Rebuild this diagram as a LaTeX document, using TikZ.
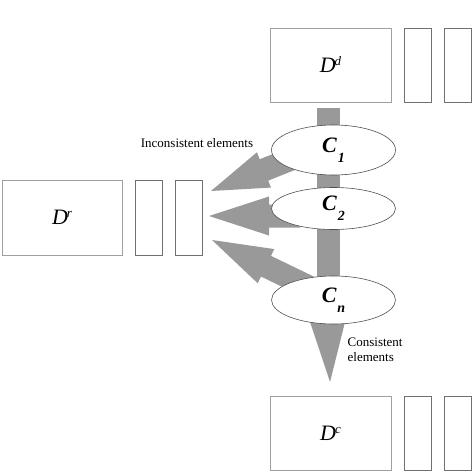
\documentclass[tikz,border=0pt]{standalone}
\usepackage{fontspec}
\setmainfont{Liberation Serif}
\usetikzlibrary{shapes.geometric,calc}
\definecolor{arrgray}{HTML}{999999}
\definecolor{bigline}{HTML}{A0A0A0}
\definecolor{smallline}{HTML}{707070}
\definecolor{ellline}{HTML}{505050}
% #1 source, #2 tip, #3 head length, #4 half head width, #5 half shaft width
\newcommand\blockarr[5]{%
  \coordinate (ab) at ($(#2)!#3!(#1)$);
  \fill[arrgray] (#2) -- ($(ab)!#4!90:(#2)$) -- ($(ab)!#5!90:(#2)$)
     -- ($(#1)!#5!90:(ab)$) -- ($(#1)!#5!-90:(ab)$)
     -- ($(ab)!#5!-90:(#2)$) -- ($(ab)!#4!-90:(#2)$) -- cycle;}
\newcommand\clab[1]{\fontsize{22}{22}\selectfont\bfseries\itshape C\hspace{1pt}\raisebox{-10pt}{\fontsize{14}{14}\selectfont #1}}
\newcommand\dlab[1]{\fontsize{22}{22}\selectfont\itshape D\hspace{-1pt}\raisebox{7pt}{\fontsize{13}{13}\selectfont #1}}
\tikzset{
  bigbox/.style={draw=bigline, line width=0.8pt, minimum width=121pt, minimum height=74pt, inner sep=0pt},
  smallbox/.style={draw=smallline, line width=0.7pt, minimum width=27pt, minimum height=74pt, inner sep=0pt},
  ell/.style={ellipse, draw=ellline, fill=white, line width=0.6pt, minimum width=124pt, inner sep=0pt},
  lbl/.style={font=\fontsize{13}{15}\selectfont, inner sep=0pt, align=left}
}
\begin{document}
\begin{tikzpicture}[x=1pt, y=-1pt]
\useasboundingbox (0,0) rectangle (472,472);
% boxes
\node[bigbox] (dd) at (330.5,65) {\dlab{d}};
\node[smallbox] (dd1) at (417.5,65) {};
\node[smallbox] (dd2) at (457.5,65) {};
\node[bigbox, minimum width=120pt, minimum height=75pt] (dr) at (62,217.5) {\dlab{r}};
\node[smallbox, minimum height=75pt] (dr1) at (148.5,217.5) {};
\node[smallbox, minimum height=75pt] (dr2) at (188.5,217.5) {};
\node[bigbox] (dc) at (330.5,433) {\dlab{c}};
\node[smallbox] (dc1) at (417.5,433) {};
\node[smallbox] (dc2) at (457.5,433) {};
% vertical bar
\coordinate (bartop) at (328.5,108);
\coordinate (barbot) at (328.5,290);
\fill[arrgray] ([xshift=-11.5pt]bartop) rectangle ([xshift=11.5pt]barbot);
% block arrows
\coordinate (a1s) at (304,154); \coordinate (a1t) at (211,191);
\coordinate (a2s) at (300,216); \coordinate (a2t) at (209,216);
\coordinate (a3s) at (311,288); \coordinate (a3t) at (212,240);
\blockarr{a1s}{a1t}{57pt}{19pt}{11.5pt}
\blockarr{a2s}{a2t}{60pt}{19.5pt}{11.5pt}
\blockarr{a3s}{a3t}{60pt}{19pt}{11.5pt}
% consistent triangle
\coordinate (trl) at (306,310); \coordinate (trr) at (348,310); \coordinate (trt) at (330,382);
\fill[arrgray] (trl) -- (trr) -- (trt) -- cycle;
% ellipses
\node[ell, minimum height=50pt] (c1) at (333.5,150) {\clab{1}};
\node[ell, minimum height=42pt] (c2) at (333.5,208.5) {\clab{2}};
\node[ell, minimum height=48pt] (cn) at (333.5,300) {\clab{n}};
% labels
\node[lbl] (inc) at (197,143) {Inconsistent elements};
\node[lbl, anchor=west] (con) at (347.5,349.5) {Consistent\\elements};
\end{tikzpicture}
\end{document}
